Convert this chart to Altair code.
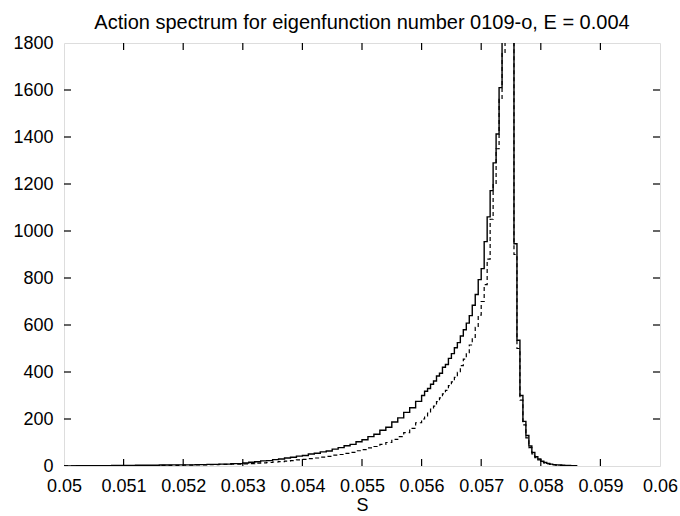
import altair as alt
import pandas as pd

# ---- data ----
title_text = ["Action spectrum for eigenfunction number 0109-o, E = 0.004"]

# left bin edges and counts
s_edges_a = [0.0500, 0.0502, 0.0504, 0.0506, 0.0508, 0.0510, 0.0512, 0.0514,
             0.0516, 0.0518, 0.0520, 0.0522, 0.0524, 0.0526, 0.0528]
solid_a = [0.5, 1, 1, 1.5, 2, 2, 3, 3, 4, 5, 5, 6, 7, 8, 10]
dashed_a = [0.5, 0.5, 1, 1, 1.5, 1.5, 2, 2, 2.5, 3, 4, 5, 6, 7, 8]

s_edges_b = [0.0530, 0.0531, 0.0532, 0.0533, 0.0534, 0.0535, 0.0536, 0.0537,
             0.0538, 0.0539, 0.0540, 0.0541, 0.0542, 0.0543, 0.0544, 0.0545,
             0.0546, 0.0547, 0.0548, 0.0549, 0.0550, 0.0551, 0.0552, 0.0553,
             0.0554, 0.0555, 0.0556, 0.0557, 0.0558, 0.0559]
solid_b = [13, 16, 18, 22, 23, 27, 30, 34, 37, 42, 45, 51, 54, 60, 64, 72,
           78, 86, 92, 103, 112, 125, 135, 152, 165, 187, 205, 228, 248, 275]
dashed_b = [9, 10, 12, 13, 15, 17, 19, 21, 23, 26, 28, 31, 34, 38, 41, 46,
            49, 54, 58, 65, 70, 77, 83, 92, 100, 113, 125, 142, 160, 184]

s_edges_c = [0.05600, 0.05605, 0.05610, 0.05615, 0.05620, 0.05625, 0.05630,
             0.05635, 0.05640, 0.05645, 0.05650, 0.05655, 0.05660, 0.05665,
             0.05670, 0.05675, 0.05680, 0.05685, 0.05690, 0.05695, 0.05700,
             0.05705, 0.05710, 0.05715, 0.05720, 0.05725, 0.05730, 0.05735,
             0.05740, 0.05745, 0.05750, 0.05755, 0.05760, 0.05765, 0.05770,
             0.05775, 0.05780, 0.05785, 0.05790, 0.05795, 0.05800, 0.05805,
             0.05810, 0.05815, 0.05820, 0.05825, 0.05830, 0.05835, 0.05840,
             0.05845, 0.05850, 0.05855, 0.05860]
solid_c = [300, 318, 330, 348, 362, 383, 395, 420, 432, 458, 478, 503, 525,
           553, 580, 608, 640, 684, 730, 793, 840, 955, 1060, 1172, 1290,
           1413, 1610, 2300, 3000, 3500, 3200, 946, 535, 300, 190, 130, 85,
           58, 40, 30, 20, 15, 11, 8, 6, 5, 4, 3, 2, 2, 1, 1, 0]
dashed_c = [200, 213, 225, 242, 255, 274, 290, 307, 322, 342, 358, 377, 398,
            427, 455, 482, 515, 547, 590, 642, 700, 772, 880, 1050, 1200,
            1350, 1560, 1760, 2800, 3400, 3300, 900, 500, 280, 175, 120, 78,
            52, 36, 26, 18, 13, 9, 7, 5, 4, 3, 2, 2, 1, 1, 0.5, 0]

x_ticks = [0.050, 0.051, 0.052, 0.053, 0.054, 0.055, 0.056, 0.057, 0.058, 0.059, 0.060]
y_ticks = [0, 200, 400, 600, 800, 1000, 1200, 1400, 1600, 1800]

W, H = 596, 423
FONT = "Liberation Sans"

edges = s_edges_a + s_edges_b + s_edges_c
rows = []
for s, v in zip(edges, solid_a + solid_b + solid_c):
    rows.append({"S": s, "count": v, "series": "solid"})
for s, v in zip(edges, dashed_a + dashed_b + dashed_c):
    rows.append({"S": s, "count": v, "series": "dashed"})
df = pd.DataFrame(rows)

xs = alt.Scale(domain=[0.05, 0.06], nice=False, zero=False)
ys = alt.Scale(domain=[0, 1800], nice=False)

x_axis = alt.Axis(values=x_ticks, format=".3~f", ticks=False, domain=False, grid=False,
                  labelFont=FONT, labelFontSize=18, labelColor="black", labelPadding=11,
                  title="S", titleFont=FONT, titleFontSize=18, titleFontWeight="normal",
                  titleColor="black", titlePadding=1, labelFlush=False, labelOverlap=False)
y_axis = alt.Axis(values=y_ticks, format="d", ticks=False, domain=False, grid=False,
                  labelFont=FONT, labelFontSize=18, labelColor="black", labelPadding=11,
                  title=None, labelOverlap=False)

solid = alt.Chart(df[df.series == "solid"]).mark_line(
    interpolate="step-after", color="black", strokeWidth=1.4, clip=True
).encode(
    x=alt.X("S:Q", scale=xs, axis=x_axis),
    y=alt.Y("count:Q", scale=ys, axis=y_axis),
)
dashed = alt.Chart(df[df.series == "dashed"]).mark_line(
    interpolate="step-after", color="black", strokeWidth=1.2, strokeDash=[4, 3], clip=True
).encode(
    x=alt.X("S:Q", scale=xs),
    y=alt.Y("count:Q", scale=ys),
)

xt = pd.DataFrame({"t": x_ticks[1:-1]})
yt = pd.DataFrame({"t": y_ticks[1:-1]})
tick_b = alt.Chart(xt).mark_rule(color="black", strokeWidth=1.2).encode(
    x=alt.X("t:Q", scale=xs), y=alt.value(H), y2=alt.value(H - 7))
tick_t = alt.Chart(xt).mark_rule(color="black", strokeWidth=1.2).encode(
    x=alt.X("t:Q", scale=xs), y=alt.value(0), y2=alt.value(7))
tick_l = alt.Chart(yt).mark_rule(color="black", strokeWidth=1.2).encode(
    y=alt.Y("t:Q", scale=ys), x=alt.value(0), x2=alt.value(7))
tick_r = alt.Chart(yt).mark_rule(color="black", strokeWidth=1.2).encode(
    y=alt.Y("t:Q", scale=ys), x=alt.value(W), x2=alt.value(W - 7))

title = alt.Chart(pd.DataFrame({"t": title_text})).mark_text(
    font=FONT, fontSize=20, color="black", align="center", baseline="alphabetic"
).encode(x=alt.value(W / 2), y=alt.value(-14), text="t:N")

chart = alt.layer(solid, dashed, tick_b, tick_t, tick_l, tick_r, title).properties(
    width=W, height=H,
    autosize=alt.AutoSizeParams(type="none"),
    padding={"left": 64, "top": 43, "right": 20, "bottom": 50},
).configure_view(stroke="black", strokeWidth=1.4).configure(background="white")

chart.save("out.html", embed_options={"renderer": "svg", "actions": False})
